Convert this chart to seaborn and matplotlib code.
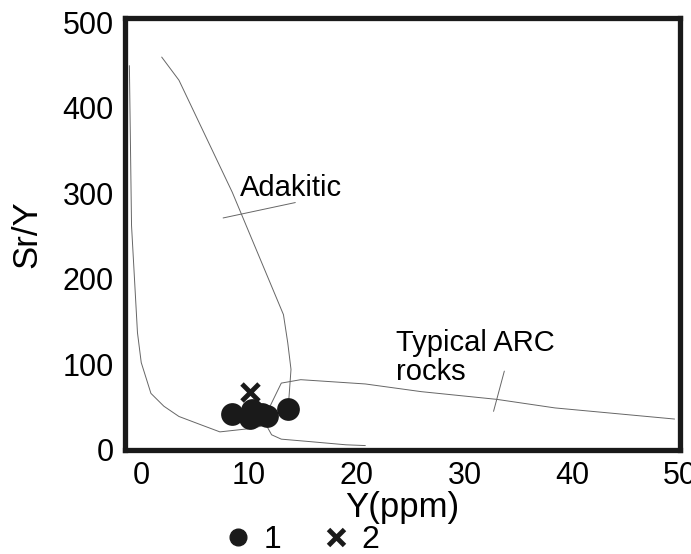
import numpy as np
import pandas as pd
import matplotlib
matplotlib.use("Agg")
import matplotlib.pyplot as plt
from matplotlib.lines import Line2D
import seaborn as sns

# Sample data (Y ppm, Sr/Y)
grp1_y = [8.4, 10.3, 10.6, 10.1, 11.7, 11.2, 13.6]
grp1_sry = [42, 46, 41, 37, 39, 42, 48]
grp2_y = [10.1]
grp2_sry = [68]

# Field boundaries
adak_left_x = [-1.1, -0.9, -0.35, 0.0, 0.9, 2.1, 3.5, 5.6, 7.3, 10.2, 11.6]
adak_left_y = [449, 262, 137, 102, 66, 51, 39, 29, 21, 25, 29]
adak_right_x = [1.9, 3.5, 8.45, 13.2, 13.6, 13.9, 13.7, 13.0]
adak_right_y = [459, 432, 301, 158, 125, 94, 59, 49]
arc_top_x = [11.6, 11.8, 13.0, 14.8, 20.8, 26.0, 33.0, 38.4, 49.5]
arc_top_y = [29, 47, 78, 82, 77, 68, 59, 49, 36]
arc_bot_x = [11.6, 12.1, 13.0, 15.5, 19.0, 20.8]
arc_bot_y = [29, 17.6, 12.5, 9.8, 5.9, 5.0]

sns.set_style("white")
plt.rcParams["font.family"] = ["Liberation Sans", "DejaVu Sans"]
plt.rcParams["text.color"] = "black"
plt.rcParams["axes.labelcolor"] = "black"
plt.rcParams["xtick.labelcolor"] = "black"
plt.rcParams["ytick.labelcolor"] = "black"

fig = plt.figure(figsize=(6.91, 5.54), dpi=100)
ax = fig.add_axes([0.181, 0.188, 0.803, 0.78])

line_kw = dict(color="#666666", linewidth=0.7, sort=False, estimator=None, ax=ax)
for xs, ys in [(adak_left_x, adak_left_y), (adak_right_x, adak_right_y),
               (arc_top_x, arc_top_y), (arc_bot_x, arc_bot_y)]:
    sns.lineplot(x=xs, y=ys, **line_kw)

# leader lines for field labels
ax.plot([7.6, 14.3], [271, 289], color="#666666", lw=0.7)
ax.plot([33.7, 32.7], [92, 45], color="#666666", lw=0.7)

ax.text(9.2, 306, "Adakitic", fontsize=21, va="center", ha="left")
ax.text(23.6, 108, "Typical ARC\nrocks", fontsize=21, va="center", ha="left",
        linespacing=1.05)

sns.scatterplot(x=grp1_y, y=grp1_sry, marker="o", s=230, color="#1a1a1a",
                edgecolor="#1a1a1a", ax=ax, zorder=3)
sns.scatterplot(x=grp2_y, y=grp2_sry, marker="x", s=150, color="#1a1a1a",
                linewidth=3.5, ax=ax, zorder=3)

ax.set_xlim(-1.5, 50)
ax.set_ylim(0, 505)
ax.set_xticks([0, 10, 20, 30, 40, 50])
ax.set_yticks([0, 100, 200, 300, 400, 500])
ax.tick_params(direction="in", length=5, color="#999999", labelsize=22, pad=8)
for sp in ax.spines.values():
    sp.set_linewidth(3.8)
    sp.set_color("#1a1a1a")

ax.set_xlabel("Y(ppm)", fontsize=25, labelpad=0)
ax.set_ylabel("Sr/Y", fontsize=25, labelpad=14)

handles = [
    Line2D([], [], marker="o", ls="", color="#1a1a1a", markersize=12),
    Line2D([], [], marker="x", ls="", color="#1a1a1a", markersize=12, mew=3.5),
]
fig.legend(handles, ["1", "2"], loc="center", bbox_to_anchor=(0.435, 0.025),
           ncol=2, frameon=False, fontsize=23, handletextpad=0.3,
           columnspacing=1.2, handlelength=1.0)

fig.savefig("out.png", dpi=100)
